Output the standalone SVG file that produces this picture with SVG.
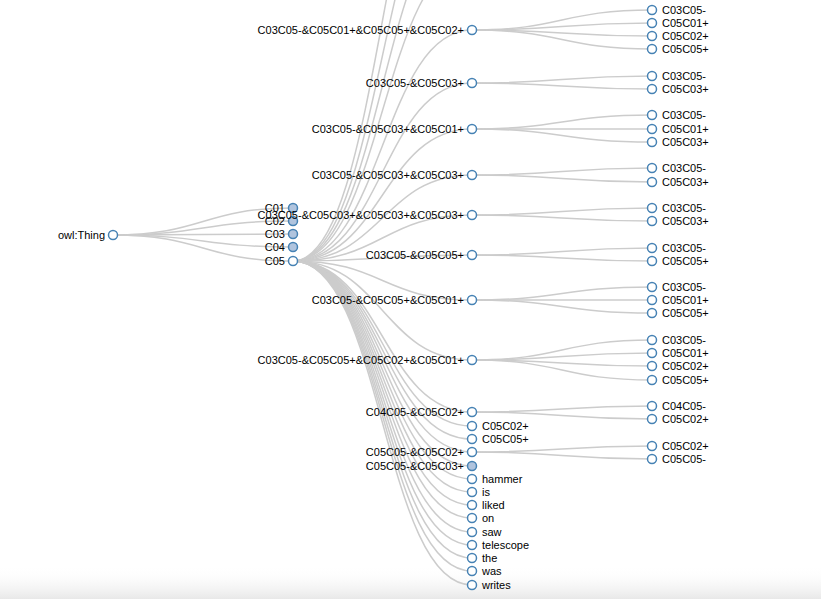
<svg xmlns="http://www.w3.org/2000/svg" width="821" height="599" viewBox="0 0 821 599">
<style>
.link{fill:none;stroke:#ccc;stroke-width:1.5px}
.node circle{fill:#fff;stroke:steelblue;stroke-width:1.5px}
.node circle.c{fill:lightsteelblue}
text{font-family:"Liberation Sans",Arial,sans-serif;font-size:11px;fill:#000}
.l{text-anchor:end}
</style>
<defs><linearGradient id="bg" x1="0" y1="0" x2="0" y2="1"><stop offset="0" stop-color="#fff" stop-opacity="0"/><stop offset="1" stop-color="#e8e8e8"/></linearGradient></defs>
<rect width="821" height="599" fill="#fff"/>
<rect y="565" width="821" height="34" fill="url(#bg)"/>
<g id="links">
<path class="link" d="M113,235C203,235 203,208 293,208"/>
<path class="link" d="M113,235C203,235 203,221 293,221"/>
<path class="link" d="M113,235C203,235 203,234 293,234"/>
<path class="link" d="M113,235C203,235 203,247 293,247"/>
<path class="link" d="M113,235C203,235 203,261 293,261"/>
<path class="link" d="M293,261C382.5,261 382.5,-40 472,-40"/>
<path class="link" d="M293,261C382.5,261 382.5,-90 472,-90"/>
<path class="link" d="M293,261C382.5,261 382.5,-150 472,-150"/>
<path class="link" d="M293,261C382.5,261 382.5,-220 472,-220"/>
<path class="link" d="M293,261C382.5,261 382.5,30 472,30"/>
<path class="link" d="M293,261C382.5,261 382.5,83 472,83"/>
<path class="link" d="M293,261C382.5,261 382.5,129 472,129"/>
<path class="link" d="M293,261C382.5,261 382.5,175 472,175"/>
<path class="link" d="M293,261C382.5,261 382.5,215 472,215"/>
<path class="link" d="M293,261C382.5,261 382.5,255 472,255"/>
<path class="link" d="M293,261C382.5,261 382.5,300 472,300"/>
<path class="link" d="M293,261C382.5,261 382.5,360 472,360"/>
<path class="link" d="M293,261C382.5,261 382.5,412 472,412"/>
<path class="link" d="M293,261C382.5,261 382.5,426 472,426"/>
<path class="link" d="M293,261C382.5,261 382.5,439 472,439"/>
<path class="link" d="M293,261C382.5,261 382.5,452 472,452"/>
<path class="link" d="M293,261C382.5,261 382.5,466 472,466"/>
<path class="link" d="M293,261C382.5,261 382.5,479 472,479"/>
<path class="link" d="M293,261C382.5,261 382.5,492 472,492"/>
<path class="link" d="M293,261C382.5,261 382.5,505 472,505"/>
<path class="link" d="M293,261C382.5,261 382.5,518 472,518"/>
<path class="link" d="M293,261C382.5,261 382.5,532 472,532"/>
<path class="link" d="M293,261C382.5,261 382.5,545 472,545"/>
<path class="link" d="M293,261C382.5,261 382.5,558 472,558"/>
<path class="link" d="M293,261C382.5,261 382.5,571 472,571"/>
<path class="link" d="M293,261C382.5,261 382.5,585 472,585"/>
<path class="link" d="M472,30C562,30 562,10 652,10"/>
<path class="link" d="M472,30C562,30 562,23 652,23"/>
<path class="link" d="M472,30C562,30 562,36 652,36"/>
<path class="link" d="M472,30C562,30 562,49 652,49"/>
<path class="link" d="M472,83C562,83 562,76 652,76"/>
<path class="link" d="M472,83C562,83 562,89 652,89"/>
<path class="link" d="M472,129C562,129 562,115 652,115"/>
<path class="link" d="M472,129C562,129 562,129 652,129"/>
<path class="link" d="M472,129C562,129 562,142 652,142"/>
<path class="link" d="M472,175C562,175 562,168 652,168"/>
<path class="link" d="M472,175C562,175 562,182 652,182"/>
<path class="link" d="M472,215C562,215 562,208 652,208"/>
<path class="link" d="M472,215C562,215 562,221 652,221"/>
<path class="link" d="M472,255C562,255 562,248 652,248"/>
<path class="link" d="M472,255C562,255 562,261 652,261"/>
<path class="link" d="M472,300C562,300 562,287 652,287"/>
<path class="link" d="M472,300C562,300 562,300 652,300"/>
<path class="link" d="M472,300C562,300 562,313 652,313"/>
<path class="link" d="M472,360C562,360 562,340 652,340"/>
<path class="link" d="M472,360C562,360 562,353 652,353"/>
<path class="link" d="M472,360C562,360 562,366 652,366"/>
<path class="link" d="M472,360C562,360 562,380 652,380"/>
<path class="link" d="M472,412C562,412 562,406 652,406"/>
<path class="link" d="M472,412C562,412 562,419 652,419"/>
<path class="link" d="M472,452C562,452 562,446 652,446"/>
<path class="link" d="M472,452C562,452 562,459 652,459"/>
</g>
<g id="n-root" class="node" transform="translate(113,235)"><circle r="4.5"/><text class="l" x="-8" y="4">owl:Thing</text></g>
<g id="n-c01" class="node" transform="translate(293,208)"><circle class="c" r="4.5"/><text class="l" x="-8" y="4">C01</text></g>
<g id="n-c02" class="node" transform="translate(293,221)"><circle class="c" r="4.5"/><text class="l" x="-8" y="4">C02</text></g>
<g id="n-c03" class="node" transform="translate(293,234)"><circle class="c" r="4.5"/><text class="l" x="-8" y="4">C03</text></g>
<g id="n-c04" class="node" transform="translate(293,247)"><circle class="c" r="4.5"/><text class="l" x="-8" y="4">C04</text></g>
<g id="n-c05" class="node" transform="translate(293,261)"><circle r="4.5"/><text class="l" x="-8" y="4">C05</text></g>
<g id="n-a" class="node" transform="translate(472,30)"><circle r="4.5"/><text class="l" x="-8" y="4">C03C05-&amp;C05C01+&amp;C05C05+&amp;C05C02+</text></g>
<g id="n-b" class="node" transform="translate(472,83)"><circle r="4.5"/><text class="l" x="-8" y="4">C03C05-&amp;C05C03+</text></g>
<g id="n-c" class="node" transform="translate(472,129)"><circle r="4.5"/><text class="l" x="-8" y="4">C03C05-&amp;C05C03+&amp;C05C01+</text></g>
<g id="n-d" class="node" transform="translate(472,175)"><circle r="4.5"/><text class="l" x="-8" y="4">C03C05-&amp;C05C03+&amp;C05C03+</text></g>
<g id="n-e" class="node" transform="translate(472,215)"><circle r="4.5"/><text class="l" x="-8" y="4">C03C05-&amp;C05C03+&amp;C05C03+&amp;C05C03+</text></g>
<g id="n-f" class="node" transform="translate(472,255)"><circle r="4.5"/><text class="l" x="-8" y="4">C03C05-&amp;C05C05+</text></g>
<g id="n-g" class="node" transform="translate(472,300)"><circle r="4.5"/><text class="l" x="-8" y="4">C03C05-&amp;C05C05+&amp;C05C01+</text></g>
<g id="n-h" class="node" transform="translate(472,360)"><circle r="4.5"/><text class="l" x="-8" y="4">C03C05-&amp;C05C05+&amp;C05C02+&amp;C05C01+</text></g>
<g id="n-i" class="node" transform="translate(472,412)"><circle r="4.5"/><text class="l" x="-8" y="4">C04C05-&amp;C05C02+</text></g>
<g id="n-j" class="node" transform="translate(472,426)"><circle r="4.5"/><text x="10" y="4">C05C02+</text></g>
<g id="n-k" class="node" transform="translate(472,439)"><circle r="4.5"/><text x="10" y="4">C05C05+</text></g>
<g id="n-l" class="node" transform="translate(472,452)"><circle r="4.5"/><text class="l" x="-8" y="4">C05C05-&amp;C05C02+</text></g>
<g id="n-m" class="node" transform="translate(472,466)"><circle class="c" r="4.5"/><text class="l" x="-8" y="4">C05C05-&amp;C05C03+</text></g>
<g id="n-hammer" class="node" transform="translate(472,479)"><circle r="4.5"/><text x="10" y="4">hammer</text></g>
<g id="n-is" class="node" transform="translate(472,492)"><circle r="4.5"/><text x="10" y="4">is</text></g>
<g id="n-liked" class="node" transform="translate(472,505)"><circle r="4.5"/><text x="10" y="4">liked</text></g>
<g id="n-on" class="node" transform="translate(472,518)"><circle r="4.5"/><text x="10" y="4">on</text></g>
<g id="n-saw" class="node" transform="translate(472,532)"><circle r="4.5"/><text x="10" y="4">saw</text></g>
<g id="n-telescope" class="node" transform="translate(472,545)"><circle r="4.5"/><text x="10" y="4">telescope</text></g>
<g id="n-the" class="node" transform="translate(472,558)"><circle r="4.5"/><text x="10" y="4">the</text></g>
<g id="n-was" class="node" transform="translate(472,571)"><circle r="4.5"/><text x="10" y="4">was</text></g>
<g id="n-writes" class="node" transform="translate(472,585)"><circle r="4.5"/><text x="10" y="4">writes</text></g>
<g id="n-a1" class="node" transform="translate(652,10)"><circle r="4.5"/><text x="10" y="4">C03C05-</text></g>
<g id="n-a2" class="node" transform="translate(652,23)"><circle r="4.5"/><text x="10" y="4">C05C01+</text></g>
<g id="n-a3" class="node" transform="translate(652,36)"><circle r="4.5"/><text x="10" y="4">C05C02+</text></g>
<g id="n-a4" class="node" transform="translate(652,49)"><circle r="4.5"/><text x="10" y="4">C05C05+</text></g>
<g id="n-b1" class="node" transform="translate(652,76)"><circle r="4.5"/><text x="10" y="4">C03C05-</text></g>
<g id="n-b2" class="node" transform="translate(652,89)"><circle r="4.5"/><text x="10" y="4">C05C03+</text></g>
<g id="n-c1" class="node" transform="translate(652,115)"><circle r="4.5"/><text x="10" y="4">C03C05-</text></g>
<g id="n-c2" class="node" transform="translate(652,129)"><circle r="4.5"/><text x="10" y="4">C05C01+</text></g>
<g id="n-c3" class="node" transform="translate(652,142)"><circle r="4.5"/><text x="10" y="4">C05C03+</text></g>
<g id="n-d1" class="node" transform="translate(652,168)"><circle r="4.5"/><text x="10" y="4">C03C05-</text></g>
<g id="n-d2" class="node" transform="translate(652,182)"><circle r="4.5"/><text x="10" y="4">C05C03+</text></g>
<g id="n-e1" class="node" transform="translate(652,208)"><circle r="4.5"/><text x="10" y="4">C03C05-</text></g>
<g id="n-e2" class="node" transform="translate(652,221)"><circle r="4.5"/><text x="10" y="4">C05C03+</text></g>
<g id="n-f1" class="node" transform="translate(652,248)"><circle r="4.5"/><text x="10" y="4">C03C05-</text></g>
<g id="n-f2" class="node" transform="translate(652,261)"><circle r="4.5"/><text x="10" y="4">C05C05+</text></g>
<g id="n-g1" class="node" transform="translate(652,287)"><circle r="4.5"/><text x="10" y="4">C03C05-</text></g>
<g id="n-g2" class="node" transform="translate(652,300)"><circle r="4.5"/><text x="10" y="4">C05C01+</text></g>
<g id="n-g3" class="node" transform="translate(652,313)"><circle r="4.5"/><text x="10" y="4">C05C05+</text></g>
<g id="n-h1" class="node" transform="translate(652,340)"><circle r="4.5"/><text x="10" y="4">C03C05-</text></g>
<g id="n-h2" class="node" transform="translate(652,353)"><circle r="4.5"/><text x="10" y="4">C05C01+</text></g>
<g id="n-h3" class="node" transform="translate(652,366)"><circle r="4.5"/><text x="10" y="4">C05C02+</text></g>
<g id="n-h4" class="node" transform="translate(652,380)"><circle r="4.5"/><text x="10" y="4">C05C05+</text></g>
<g id="n-i1" class="node" transform="translate(652,406)"><circle r="4.5"/><text x="10" y="4">C04C05-</text></g>
<g id="n-i2" class="node" transform="translate(652,419)"><circle r="4.5"/><text x="10" y="4">C05C02+</text></g>
<g id="n-l1" class="node" transform="translate(652,446)"><circle r="4.5"/><text x="10" y="4">C05C02+</text></g>
<g id="n-l2" class="node" transform="translate(652,459)"><circle r="4.5"/><text x="10" y="4">C05C05-</text></g>
</svg>
